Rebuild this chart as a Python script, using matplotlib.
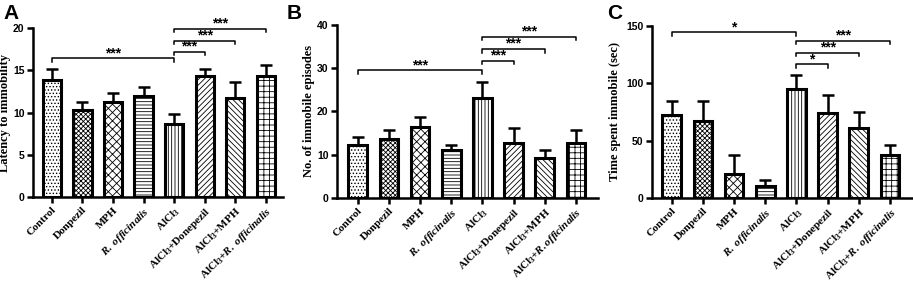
import numpy as np
import matplotlib.pyplot as plt

plt.rcParams['font.family'] = 'Liberation Serif'
plt.rcParams['mathtext.fontset'] = 'custom'
plt.rcParams['mathtext.rm'] = 'Liberation Serif:bold'
plt.rcParams['mathtext.bf'] = 'Liberation Serif:bold'
plt.rcParams['mathtext.it'] = 'Liberation Serif:italic:bold'
plt.rcParams['hatch.linewidth'] = 0.6

groups = ['Control', 'Donpezil', 'MPH', r'$\mathit{R.\ officinalis}$', r'AlCl$_\mathbf{3}$',
          r'AlCl$_\mathbf{3}$+Donepezil', r'AlCl$_\mathbf{3}$+MPH', r'AlCl$_\mathbf{3}$+$\mathit{R.\ officinalis}$']
groups_b = groups[:7] + [r'AlCl$_\mathbf{3}$+$\mathit{R.officinalis}$']

latency = [13.9, 10.3, 11.3, 11.9, 8.7, 14.3, 11.7, 14.3]
latency_err = [1.3, 0.9, 1.0, 1.1, 1.1, 0.8, 1.9, 1.3]
episodes = [12.2, 13.7, 16.5, 11.0, 23.1, 12.8, 9.2, 12.8]
episodes_err = [1.8, 2.1, 2.3, 1.3, 3.8, 3.4, 1.9, 3.0]
time_imm = [72.0, 67.0, 21.0, 10.7, 95.4, 73.7, 60.6, 37.7]
time_err = [12.7, 17.7, 16.7, 5.3, 11.9, 15.7, 14.0, 8.4]

hatches = ['.....', 'xxxxxxx', 'xxxx', '-----', '|||||', '//////', '\\\\\\\\\\\\', '+++']

# (start, end, y, label)
sig_a = [(0, 4, 16.4, '***'), (4, 5, 17.2, '***'), (4, 6, 18.5, '***'), (4, 7, 19.9, '***')]
sig_b = [(0, 4, 29.5, '***'), (4, 5, 31.7, '***'), (4, 6, 34.4, '***'), (4, 7, 37.3, '***')]
sig_c = [(0, 4, 144.5, '*'), (4, 5, 116.6, '*'), (4, 6, 126.8, '***'), (4, 7, 137.0, '***')]

fig = plt.figure(figsize=(9.13, 2.86), dpi=100)
panels = [
    ([0.036, 0.311, 0.274, 0.591], latency, latency_err, sig_a, 20, [0, 5, 10, 15, 20],
     'Latency to immobility', 'A', groups, (-0.62, 7.56), -0.088, 0.004),
    ([0.369, 0.308, 0.286, 0.605], episodes, episodes_err, sig_b, 40, [0, 10, 20, 30, 40],
     'No. of immobile episodes', 'B', groups_b, (-0.67, 7.71), -0.083, 0.314),
    ([0.714, 0.308, 0.285, 0.601], time_imm, time_err, sig_c, 150, [0, 50, 100, 150],
     'Time spent immobile (sec)', 'C', groups, (-0.64, 7.71), -0.118, 0.665),
]

for rect, vals, errs, sigs, ymax, yticks, ylab, letter, labels, xl, lx, letx in panels:
    ax = fig.add_axes(rect)
    x = np.arange(len(vals))
    ax.errorbar(x, vals, yerr=[np.zeros(len(errs)), errs], fmt='none', ecolor='black',
                elinewidth=1.8, capsize=4, capthick=1.8, zorder=1)
    bars = ax.bar(x, vals, width=0.6, color='white', edgecolor='black', linewidth=2.2, zorder=2)
    for b, h in zip(bars, hatches):
        b.set_hatch(h)
    ax.set_ylim(0, ymax)
    ax.set_xlim(*xl)
    ax.set_yticks(yticks)
    ax.set_xticks(x)
    ax.set_xticklabels(labels, rotation=45, ha='right', rotation_mode='anchor',
                       fontsize=8, fontweight='bold')
    for t in ax.get_yticklabels():
        t.set_fontfamily('Liberation Sans')
        t.set_fontweight('bold')
        t.set_fontsize(7.5)
    ax.set_ylabel(ylab, fontsize=9, fontweight='bold')
    ax.yaxis.set_label_coords(lx, 0.5)
    for s in ['top', 'right']:
        ax.spines[s].set_visible(False)
    for s in ['left', 'bottom']:
        ax.spines[s].set_linewidth(1.8)
    ax.tick_params(width=1.8, length=4.5, pad=1.5)
    tick = ymax * 0.02
    for s0, s1, y, lab in sigs:
        ax.plot([s0, s0, s1, s1], [y - tick, y, y, y - tick], color='black', lw=1.1,
                clip_on=False, zorder=3)
        ax.text((s0 + s1) / 2, y - ymax * 0.01, lab, ha='center', va='bottom',
                fontsize=10, fontweight='bold', family='Liberation Sans')
    fig.text(letx, 0.985, letter, fontsize=15, fontweight='bold',
             family='Liberation Sans', ha='left', va='top')

fig.savefig('out.png', dpi=100)
